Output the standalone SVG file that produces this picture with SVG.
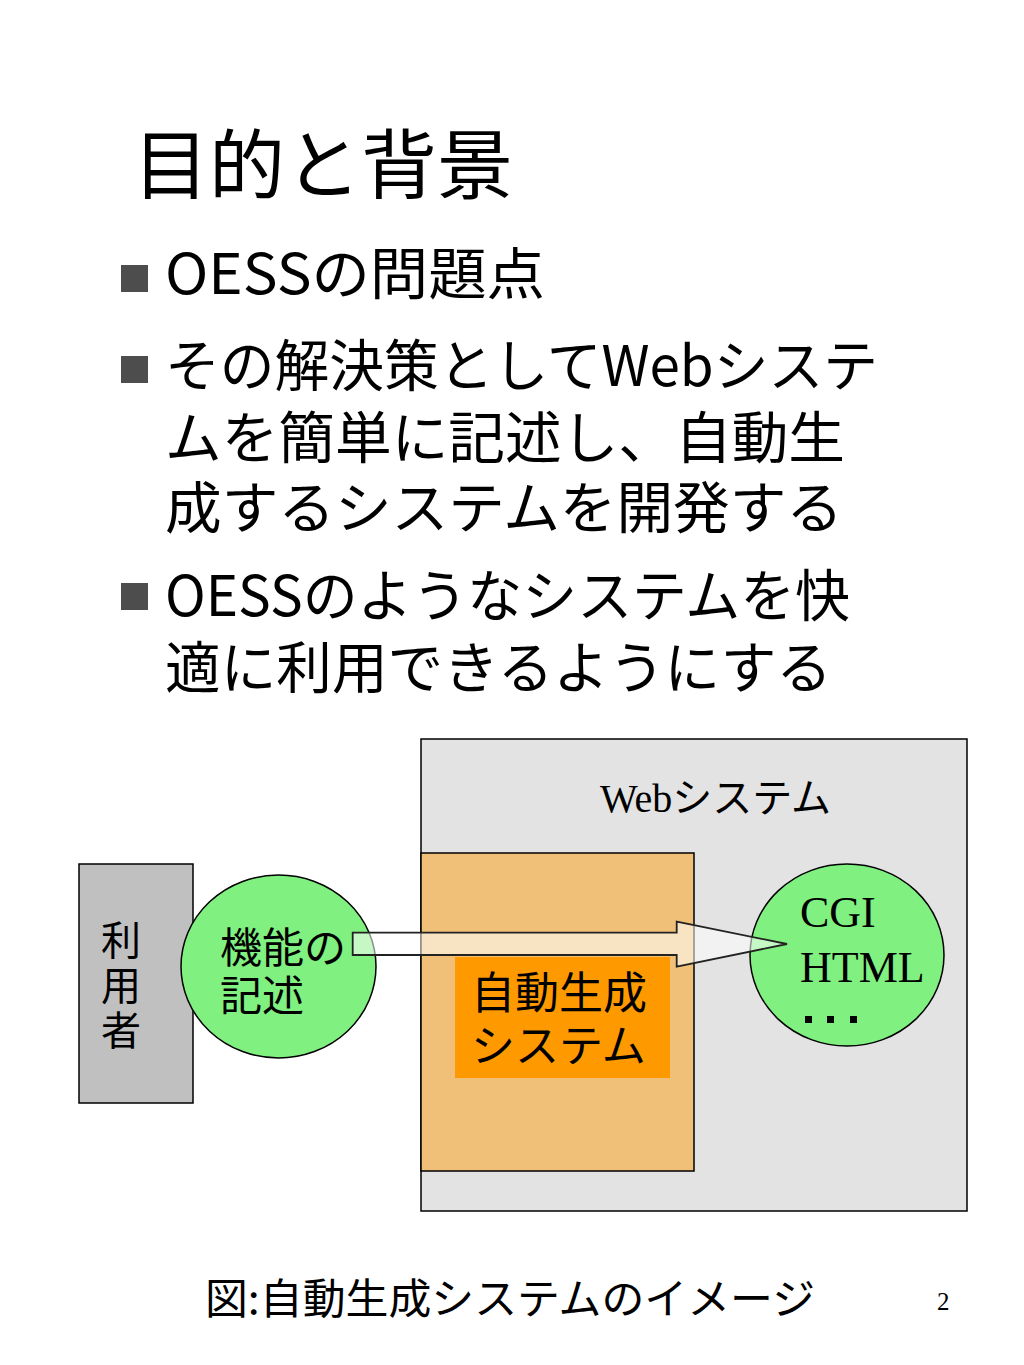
<svg xmlns="http://www.w3.org/2000/svg" width="1024" height="1365" viewBox="0 0 1024 1365">
<style>
.jp{font-family:"Noto Sans CJK JP","Noto Sans",sans-serif;fill:#000}
.serif{font-family:"Liberation Serif","Times New Roman",serif;fill:#000}
.box{stroke:#000;stroke-width:1.5}
.bul{fill:#4d4d4d}
</style>
<rect width="1024" height="1365" fill="#fff"/>
<g id="title">
<text class="jp" x="133" y="193" font-size="76" textLength="380" lengthAdjust="spacingAndGlyphs">目的と背景</text>
</g>
<g id="bullets">
<rect class="bul" x="121" y="265" width="27" height="27"/>
<rect class="bul" x="121" y="356" width="27" height="27"/>
<rect class="bul" x="121" y="583" width="27" height="27"/>
<text class="jp" x="165" y="294" font-size="56" textLength="380" lengthAdjust="spacingAndGlyphs">OESSの問題点</text>
<text class="jp" x="165" y="386" font-size="56" textLength="713" lengthAdjust="spacingAndGlyphs">その解決策としてWebシステ</text>
<text class="jp" x="165" y="458" font-size="56" textLength="680" lengthAdjust="spacingAndGlyphs">ムを簡単に記述し、自動生</text>
<text class="jp" x="165" y="528" font-size="56" textLength="678" lengthAdjust="spacingAndGlyphs">成するシステムを開発する</text>
<text class="jp" x="165" y="616" font-size="56" textLength="685" lengthAdjust="spacingAndGlyphs">OESSのようなシステムを快</text>
<text class="jp" x="165" y="688" font-size="56" textLength="667" lengthAdjust="spacingAndGlyphs">適に利用できるようにする</text>
</g>
<g id="web-system">
<rect class="box" x="421" y="739" width="546" height="472" fill="#e3e3e3"/>
<text x="600" y="812" font-size="40"><tspan class="serif">Web</tspan><tspan class="jp">システム</tspan></text>
</g>
<g id="auto-gen-outer">
<rect class="box" x="421" y="853" width="273" height="318" fill="#f0c078"/>
</g>
<g id="auto-gen">
<rect x="455" y="957" width="215" height="121" fill="#ff9900"/>
<text class="jp" font-size="44"><tspan x="471" y="1009">自動生成</tspan><tspan x="471" y="1062">システム</tspan></text>
</g>
<g id="user">
<rect class="box" x="79" y="864" width="114" height="239" fill="#c0c0c0"/>
<text class="jp" x="121" y="920" font-size="40" writing-mode="vertical-rl" letter-spacing="5">利用者</text>
</g>
<g id="func-desc">
<ellipse class="box" cx="278.5" cy="966.5" rx="97.5" ry="91.5" fill="#80f080"/>
<text class="jp" font-size="42"><tspan x="220" y="963">機能の</tspan><tspan x="220" y="1011">記述</tspan></text>
</g>
<g id="output">
<ellipse class="box" cx="847" cy="955" rx="97" ry="91" fill="#80f080"/>
<text class="serif" font-size="44"><tspan x="800" y="927">CGI</tspan><tspan x="800" y="982">HTML</tspan></text>
<rect x="805" y="1016" width="7" height="7" fill="#000"/>
<rect x="827" y="1016" width="7" height="7" fill="#000"/>
<rect x="850" y="1016" width="7" height="7" fill="#000"/>
</g>
<g id="connectors">
<path d="M352.7,932.7 H676.7 V921.7 L787,944 L676.7,966.7 V955 H352.7 Z" fill="#fff" fill-opacity="0.55" stroke="#222" stroke-width="1.8" stroke-linejoin="miter"/>
</g>
<g id="caption">
<text class="jp" x="205" y="1314" font-size="42" textLength="610" lengthAdjust="spacingAndGlyphs">図:自動生成システムのイメージ</text>
<text class="serif" x="937" y="1310" font-size="25">2</text>
</g>
</svg>
